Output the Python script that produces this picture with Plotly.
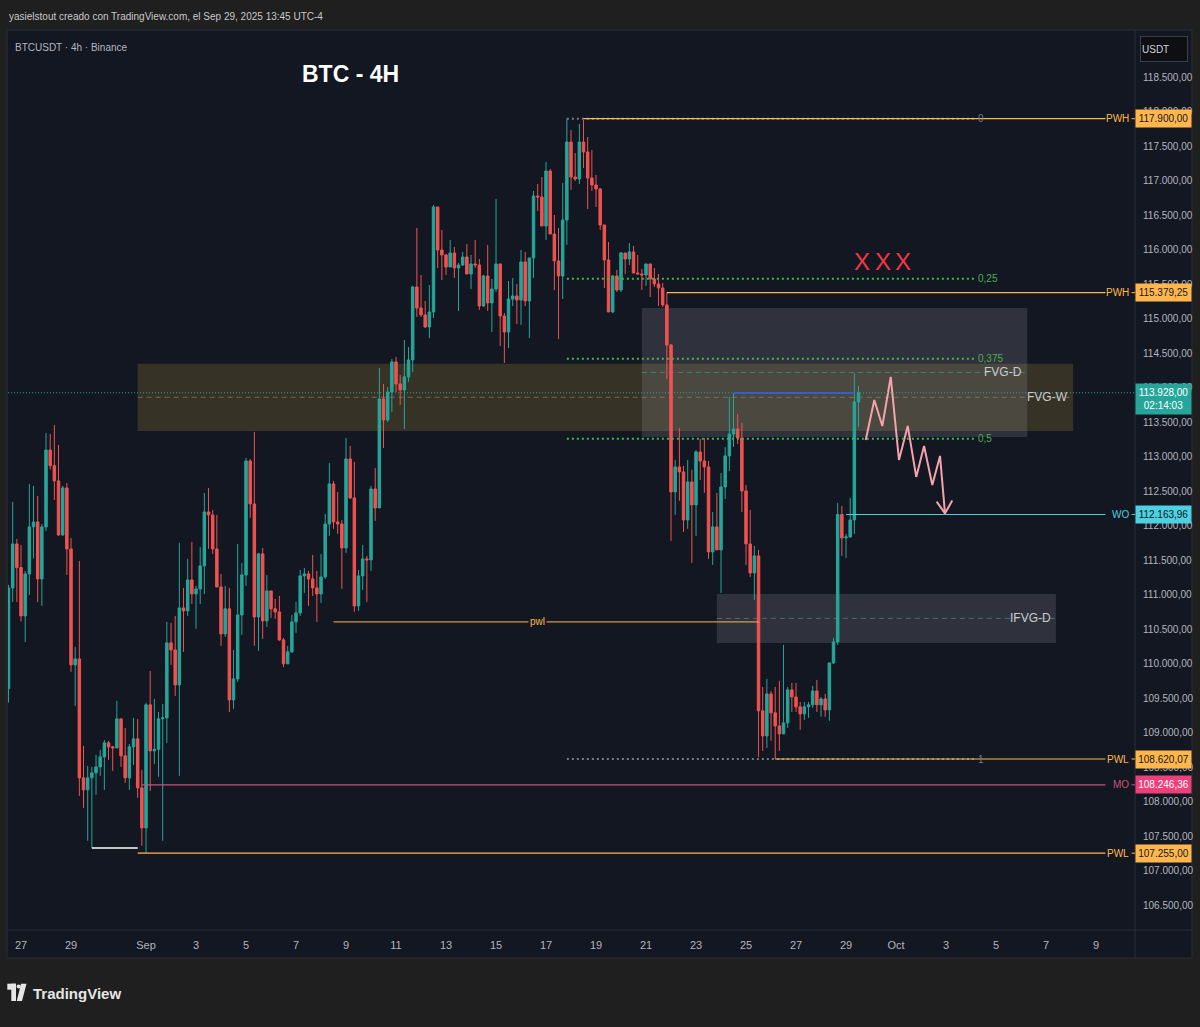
import plotly.graph_objects as go
import pandas as pd

# ---------------- data (BTCUSDT 4h) ----------------
bar_start = "2025-08-26 12:00"
first_open = 109640
close = [111100, 111737, 111394, 110694, 111303, 111984, 112056, 111230, 111984, 113099,
         112872, 112650, 111868, 112549, 111665, 109984, 110071, 108347, 108173, 108347,
         108419, 108506, 108651, 108854, 108796, 108780, 109202, 108666, 108347, 108796,
         108912, 108202, 107622, 109405, 108738, 108760, 109202, 109216, 110303, 110201,
         109694, 110810, 110767, 111216, 111013, 111085, 111419, 112201, 112158, 111665,
         111114, 110433, 110796, 109477, 109781, 110709, 111288, 112940, 112317, 110680,
         111593, 110622, 111056, 110796, 110752, 110346, 109999, 110173, 110607, 110738,
         111274, 111303, 111230, 111100, 111013, 111259, 112027, 112607, 112056, 112027,
         111679, 112969, 112404, 110839, 111274, 111520, 111506, 112534, 112259, 113838,
         113534, 113940, 114375, 114056, 113969, 114157, 114404, 115461, 115157, 115056,
         114882, 115099, 116621, 115997, 115925, 115751, 115954, 115737, 115780, 115896,
         115650, 115795, 115780, 115186, 115621, 115230, 115432, 115795, 115041, 114809,
         115287, 115331, 115273, 115824, 115259, 115882, 116780, 116765, 116345, 117142,
         116229, 115838, 115621, 116432, 117562, 117055, 117026, 117562, 117418, 117041,
         116939, 116881, 116360, 115853, 115099, 115621, 115418, 115954, 115867, 115969,
         115664, 115650, 115635, 115795, 115577, 115505, 115447, 115201, 114621, 112491,
         112853, 112781, 112085, 112636, 112303, 113071, 112940, 112853, 111622, 111984,
         111651, 112563, 113013, 113331, 113404, 113273, 112505, 111737, 111317, 111564,
         109318, 108955, 109564, 109289, 109100, 108984, 109144, 109622, 109520, 109376,
         109274, 109376, 109405, 109607, 109405, 109491, 109332, 110013, 110317, 112164,
         111824, 111839, 112085, 113795, 113928]
high = [111143, 112346, 111810, 111723, 111346, 112607, 112578, 112433, 112027, 113346,
        113332, 113462, 113172, 112578, 112621, 111824, 110245, 111491, 108810, 108521,
        108506, 108680, 108752, 108897, 108883, 108810, 109462, 109202, 109071, 108839,
        109216, 109202, 108463, 109434, 109897, 109491, 109303, 109419, 110607, 110593,
        110694, 111752, 111100, 111520, 111766, 111129, 111694, 112476, 112549, 112230,
        112158, 111303, 111129, 111100, 110201, 111737, 111462, 112984, 112969, 113360,
        111607, 111679, 111288, 111056, 110940, 110984, 110375, 110259, 110709, 110897,
        111361, 111390, 111346, 111578, 111346, 111593, 112172, 112911, 112650, 112491,
        112085, 113273, 113157, 112926, 111361, 111723, 111564, 112578, 112839, 114288,
        114056, 114012, 114418, 114447, 114186, 114693, 114592, 115476, 116316, 115635,
        115259, 115490, 116650, 116621, 116287, 115940, 116142, 116041, 115809, 115969,
        116084, 115925, 116142, 115867, 115635, 116070, 115577, 116736, 115795, 115085,
        115548, 115592, 115505, 115997, 115969, 115882, 116852, 116954, 117055, 117273,
        117171, 116505, 116316, 116968, 117900, 117736, 117403, 117823, 117880, 117635,
        117446, 117084, 116896, 116360, 116113, 115635, 115708, 115969, 115954, 116099,
        116055, 115925, 115722, 115795, 115795, 115737, 115650, 115519, 115379, 114636,
        112955, 113418, 112868, 112955, 112810, 113100, 113259, 113273, 112940, 112201,
        112476, 112766, 113143, 113867, 113925, 113621, 113491, 112592, 112230, 111708,
        111651, 109665, 109781, 109607, 109665, 109752, 110274, 109665, 109723, 109723,
        109448, 109448, 109448, 109680, 109767, 109520, 109564, 110013, 110375, 112332,
        112288, 111882, 112404, 114215, 114027]
low = [109438, 110897, 110897, 110612, 110317, 110998, 111525, 110897, 110839, 111926,
       112814, 112375, 111853, 111853, 111288, 109883, 109390, 108086, 107912, 107434,
       107332, 108100, 108376, 108173, 108608, 108448, 108781, 108506, 108274, 108173,
       108535, 108057, 107361, 107255, 108158, 108550, 108361, 107434, 108854, 109984,
       109535, 108376, 110173, 110694, 110868, 110506, 110868, 111013, 111665, 111593,
       111114, 110259, 110390, 109303, 109347, 109738, 110419, 111129, 112114, 110259,
       110187, 110361, 110535, 110665, 110651, 110332, 109955, 109999, 110158, 110448,
       110694, 111027, 110839, 110984, 110607, 110883, 111230, 111853, 111955, 111882,
       111085, 111607, 112389, 110752, 110767, 111071, 110897, 111346, 112071, 112259,
       113128, 113505, 113650, 113940, 113752, 113404, 114085, 114230, 115027, 115027,
       114867, 114722, 115012, 115737, 115563, 115635, 115751, 115592, 115114, 115766,
       115650, 115432, 115737, 115128, 115172, 115114, 114809, 115389, 114606, 114360,
       114577, 115186, 114925, 114911, 115186, 114722, 115592, 116563, 116345, 116142,
       116229, 115418, 114708, 115287, 116070, 116867, 116997, 116954, 117186, 116592,
       116852, 116620, 116287, 115447, 115099, 115084, 115389, 115389, 115650, 115780,
       115664, 115650, 115418, 115476, 115316, 115461, 115186, 115172, 114128, 111781,
       112158, 112361, 111911, 111955, 111462, 111853, 112665, 112476, 111520, 111433,
       111651, 111027, 112389, 112795, 113143, 113186, 112201, 111433, 111259, 110926,
       108650, 108738, 108781, 108883, 108620, 108738, 108984, 109071, 109303, 109303,
       109042, 109187, 109216, 109361, 109303, 109231, 109231, 109173, 109999, 110274,
       111564, 111535, 111824, 111882, 113433]

# key levels (price-axis tags)
level_names = ["PWH", "PWH", "WO", "PWL", "MO", "PWL"]
level_prices = [117900.00, 115379.25, 112163.96, 108620.07, 108246.36, 107255.00]
level_starts = ["2025-09-18 12:00", "2025-09-21 20:00", "2025-09-29 00:00",
                "2025-09-26 04:00", "2025-08-31 20:00", "2025-08-31 16:00"]
level_colors = ["#ffb74d", "#ffb74d", "#4dd0e1", "#ffb74d", "#ec407a", "#ffb74d"]
level_line_colors = ["#ffb74d", "#ffb74d", "#4dd0e1", "#ffb74d", "#c9507f", "#ffb74d"]
level_text_dark = [True, True, True, True, False, True]
level_end = "2025-10-09 09:00"

last_price = 113928.00
countdown = "02:14:03"

# fibonacci retracement
fib_top, fib_bottom = 117900.00, 108620.07
fib_ratios = [0, 0.25, 0.375, 0.5, 1]
fib_labels = ["0", "0,25", "0,375", "0,5", "1"]
fib_start, fib_end = "2025-09-17 20:00", "2025-10-04 04:00"

# zones
zone_names = ["FVG-W", "FVG-D", "IFVG-D"]
zone_tops = [114350, 115157, 111013]
zone_bottoms = [113375, 113288, 110303]
zone_starts = ["2025-08-31 16:00", "2025-09-20 20:00", "2025-09-23 20:00"]
zone_ends = ["2025-10-08 02:00", "2025-10-06 06:00", "2025-10-07 09:30"]
zone_fills = ["rgba(240,190,60,0.16)", "rgba(160,160,172,0.20)", "rgba(160,160,172,0.20)"]
zone_mid_colors = ["#6e6854", "#3f7f76", "#4f6d6a"]

# minor lines
pwl_price, pwl_start, pwl_end, pwl_label_time = 110607, "2025-09-08 12:00", "2025-09-25 12:00", "2025-09-16 16:00"
blue_price, blue_start, blue_end = 113925, "2025-09-24 12:00", "2025-09-29 08:00"
white_price, white_start, white_end = 107332, "2025-08-29 20:00", "2025-08-31 16:00"

# projected path
proj_times = ["2025-09-29 18:55", "2025-09-30 03:10", "2025-09-30 10:50", "2025-09-30 18:55",
              "2025-10-01 02:50", "2025-10-01 11:15", "2025-10-01 19:25", "2025-10-02 02:55",
              "2025-10-02 10:50", "2025-10-02 18:15", "2025-10-02 23:00"]
proj_prices = [113244, 113824, 113447, 114157, 112955, 113447, 112708, 113157, 112592, 113013, 112180]

x_marks_times = ["2025-09-29 15:20", "2025-09-30 11:15", "2025-10-01 07:00"]
x_marks_price = 115824

tick_dates = ["2025-08-27", "2025-08-29", "2025-09-01", "2025-09-03", "2025-09-05", "2025-09-07",
              "2025-09-09", "2025-09-11", "2025-09-13", "2025-09-15", "2025-09-17", "2025-09-19",
              "2025-09-21", "2025-09-23", "2025-09-25", "2025-09-27", "2025-09-29", "2025-10-01",
              "2025-10-03", "2025-10-05", "2025-10-07", "2025-10-09"]
tick_labels = ["27", "29", "Sep", "3", "5", "7", "9", "11", "13", "15", "17", "19", "21", "23",
               "25", "27", "29", "Oct", "3", "5", "7", "9"]
price_ticks = list(range(106500, 119000, 500))

x_range = ["2025-08-26 11:30", "2025-10-10 13:25"]
y_range = [106142, 119171]

# ---------------- layout helpers ----------------
W, H = 1200, 1027
ML, MR, MT, MB = 8, 65, 31, 97
PW, PH = W - ML - MR, H - MT - MB
def PX(x): return (x - ML) / PW
def PY(y): return 1 - (y - MT) / PH

FONT = "Liberation Sans, Arial, sans-serif"
BG = "#131722"
OUTER = "#1f1f1f"
AXIS_TXT = "#b2b5be"

def fmt(v):
    s = f"{v:,.2f}"
    return s.replace(",", "_").replace(".", ",").replace("_", ".")

times = pd.date_range(bar_start, periods=len(close), freq="4h")
opens = [first_open] + close[:-1]
highs = [max(h, o, c) for h, o, c in zip(high, opens, close)]
lows = [min(l, o, c) for l, o, c in zip(low, opens, close)]

fig = go.Figure()
fig.add_trace(go.Candlestick(
    x=times, open=opens, high=highs, low=lows, close=close,
    increasing=dict(line=dict(color="#26a69a", width=1), fillcolor="#26a69a"),
    decreasing=dict(line=dict(color="#ef5350", width=1), fillcolor="#ef5350"),
    whiskerwidth=0, hoverinfo="skip", showlegend=False))

shapes = []
ann = []

def A(**kw):
    kw.setdefault("showarrow", False)
    kw.setdefault("xanchor", "center")
    kw.setdefault("yanchor", "middle")
    ann.append(kw)

# panel background
shapes.append(dict(type="rect", xref="paper", yref="paper", x0=PX(7), x1=PX(1192), y0=PY(958), y1=PY(30),
                   fillcolor=BG, line=dict(color="#2a2e39", width=1), layer="below"))
# axis separators
shapes.append(dict(type="line", xref="paper", yref="paper", x0=1, x1=1, y0=PY(958), y1=PY(30),
                   line=dict(color="#2a2e39", width=1)))
shapes.append(dict(type="line", xref="paper", yref="paper", x0=0, x1=PX(1192), y0=0, y1=0,
                   line=dict(color="#2a2e39", width=1)))

# zones
for n, t, b, s, e, fc, mc in zip(zone_names, zone_tops, zone_bottoms, zone_starts, zone_ends, zone_fills, zone_mid_colors):
    shapes.append(dict(type="rect", xref="x", yref="y", x0=s, x1=e, y0=b, y1=t,
                       fillcolor=fc, line=dict(width=0), layer="below"))
    mid = (t + b) / 2
    shapes.append(dict(type="line", xref="x", yref="y", x0=s, x1=e, y0=mid, y1=mid,
                       line=dict(color=mc, width=1, dash="5px,4px"), layer="below"))
    A(x=e, y=mid, xref="x", yref="y", text=n, xanchor="right", xshift=-3,
      font=dict(family=FONT, size=12, color="#c8cbd2"))

# fib
for r, lab in zip(fib_ratios, fib_labels):
    p = fib_top - r * (fib_top - fib_bottom)
    col = "#787b86" if r in (0, 1) else "#4caf50"
    shapes.append(dict(type="line", xref="x", yref="y", x0=fib_start, x1=fib_end, y0=p, y1=p,
                       line=dict(color=col, width=2, dash="2px,3px")))
    A(x=fib_end, y=p, xref="x", yref="y", text=lab, xanchor="left", xshift=1,
      font=dict(family=FONT, size=10, color=col))

# current price dotted line
shapes.append(dict(type="line", xref="paper", yref="y", x0=0, x1=1, y0=last_price, y1=last_price,
                   line=dict(color="#26a69a", width=1, dash="1px,2px")))

# minor lines
shapes.append(dict(type="line", xref="x", yref="y", x0=pwl_start, x1=pwl_end, y0=pwl_price, y1=pwl_price,
                   line=dict(color="#ffb74d", width=1)))
A(x=pwl_label_time, y=pwl_price, xref="x", yref="y", text="pwl",
  bgcolor=BG, borderpad=1, font=dict(family=FONT, size=10, color="#ffb74d"))
shapes.append(dict(type="line", xref="x", yref="y", x0=blue_start, x1=blue_end, y0=blue_price, y1=blue_price,
                   line=dict(color="#2962ff", width=1.5)))
shapes.append(dict(type="line", xref="x", yref="y", x0=white_start, x1=white_end, y0=white_price, y1=white_price,
                   line=dict(color="#ffffff", width=1.5)))

# key levels + price-axis tags
for n, p, s, c, lc, dark in zip(level_names, level_prices, level_starts, level_colors, level_line_colors, level_text_dark):
    shapes.append(dict(type="line", xref="x", yref="y", x0=s, x1=level_end, y0=p, y1=p,
                       line=dict(color=lc, width=1.2)))
    shapes.append(dict(type="line", xref="paper", yref="y", x0=PX(1131.5), x1=1, y0=p, y1=p,
                       line=dict(color=lc, width=1)))
    A(x=PX(1130.5), y=p, xref="paper", yref="y", text=n, xanchor="right",
      font=dict(family=FONT, size=10, color=lc))
    A(x=PX(1163), y=p, xref="paper", yref="y", text=fmt(p),
      bgcolor=c, width=52, height=14, borderpad=1.5,
      font=dict(family=FONT, size=10, color="#131722" if dark else "#ffffff"))

# last price tag
A(x=PX(1163), y=last_price, xref="paper", yref="y", yshift=-6,
  text=fmt(last_price) + "<br>" + countdown,
  bgcolor="#26a69a", width=52, height=27, borderpad=1.5,
  font=dict(family=FONT, size=10, color="#ffffff"))

# projection path
fig.add_trace(go.Scatter(x=pd.to_datetime(proj_times), y=proj_prices, mode="lines",
                         line=dict(color="#f4a3ad", width=2), hoverinfo="skip", showlegend=False))
tip_t = pd.Timestamp(proj_times[-1])
tip_p = proj_prices[-1]
fig.add_trace(go.Scatter(x=[tip_t - pd.Timedelta(hours=8), tip_t, tip_t + pd.Timedelta(hours=7)],
                         y=[tip_p + 170, tip_p, tip_p + 185], mode="lines",
                         line=dict(color="#f4a3ad", width=2), hoverinfo="skip", showlegend=False))

for t in x_marks_times:
    A(x=t, y=x_marks_price, xref="x", yref="y", text="X",
      font=dict(family=FONT, size=24, color="#f23645"))

# header / titles
A(x=PX(7), y=PY(17), xref="paper", yref="paper", xanchor="left",
  text="yasielstout creado con TradingView.com, el Sep 29, 2025 13:45 UTC-4",
  font=dict(family=FONT, size=10, color="#c8c8c8"))
A(x=PX(13), y=PY(47), xref="paper", yref="paper", xanchor="left", text="BTCUSDT · 4h · Binance",
  font=dict(family=FONT, size=10, color="#b2b5be"))
A(x=PX(350), y=PY(74), xref="paper", yref="paper", text="<b>BTC - 4H</b>",
  font=dict(family=FONT, size=23, color="#ffffff"))
A(x=PX(1164), y=PY(49), xref="paper", yref="paper", text="USDT",
  bgcolor="#0e0f12", bordercolor="#3a3e48", borderwidth=1, width=44, height=22, align="left",
  font=dict(family=FONT, size=10, color="#d1d4dc"))

# footer logo
shapes.append(dict(type="rect", xref="paper", yref="paper", x0=PX(7.3), x1=PX(16), y0=PY(989.7), y1=PY(983.7),
                   fillcolor="#e6e6e6", line=dict(width=0)))
shapes.append(dict(type="rect", xref="paper", yref="paper", x0=PX(11.3), x1=PX(16), y0=PY(1001), y1=PY(983.7),
                   fillcolor="#e6e6e6", line=dict(width=0)))
shapes.append(dict(type="circle", xref="paper", yref="paper", x0=PX(16.6), x1=PX(20.6), y0=PY(988.6), y1=PY(984.6),
                   fillcolor="#e6e6e6", line=dict(width=0)))
shapes.append(dict(type="path", xref="paper", yref="paper",
                   path=f"M {PX(21)},{PY(983.7)} L {PX(26.5)},{PY(983.7)} L {PX(22)},{PY(1001)} L {PX(16.8)},{PY(1001)} Z",
                   fillcolor="#e6e6e6", line=dict(width=0)))
A(x=PX(31), y=PY(993), xref="paper", yref="paper", text="<b>TradingView</b>", xanchor="left",
  font=dict(family=FONT, size=15, color="#e6e6e6"))

fig.update_layout(
    width=W, height=H, margin=dict(l=ML, r=MR, t=MT, b=MB, autoexpand=False),
    paper_bgcolor=OUTER, plot_bgcolor=BG, boxgap=0.15,
    shapes=shapes, annotations=ann, hovermode=False,
    xaxis=dict(type="date", range=x_range, rangeslider=dict(visible=False), showgrid=False, zeroline=False,
               tickvals=pd.to_datetime(tick_dates), ticktext=tick_labels, ticks="outside", ticklen=5,
               tickcolor="rgba(0,0,0,0)", tickfont=dict(family=FONT, size=11, color=AXIS_TXT),
               fixedrange=True, automargin=False),
    yaxis=dict(side="right", range=y_range, showgrid=False, zeroline=False,
               tickvals=price_ticks, ticktext=[fmt(v) for v in price_ticks], ticks="outside", ticklen=5,
               tickcolor="rgba(0,0,0,0)", tickfont=dict(family=FONT, size=10, color=AXIS_TXT),
               fixedrange=True, automargin=False),
)

fig.write_html("out.html", config={"displayModeBar": False})
